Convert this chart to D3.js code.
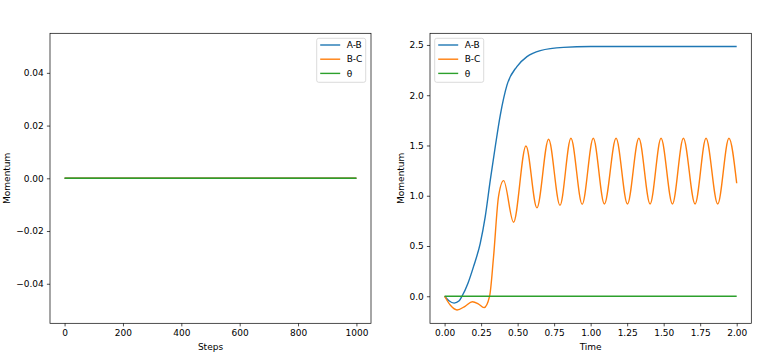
<!DOCTYPE html>
<html>
<head>
<meta charset="utf-8">
<script src="https://cdn.jsdelivr.net/npm/d3@7"></script>
<style>
  body { margin: 0; background: #fff; }
  text { font-family: "DejaVu Sans", sans-serif; }
</style>
</head>
<body>
<svg id="chart" width="768" height="363"></svg>
<script>
// left panel: every series is flat at zero over the steps
const steps = [0, 1000];
const stepAB = [0, 0];
const stepBC = [0, 0];
const stepTheta = [0, 0];

// right panel: values
const timeAB = [0, 0.03, 0.065, 0.1, 0.119, 0.16, 0.198, 0.244, 0.278, 0.313, 0.347, 0.381, 0.427, 0.495, 0.564, 0.655, 0.814, 1.0, 1.5, 2.0];
const momAB = [0, -0.045, -0.068, -0.045, 0, 0.13, 0.295, 0.527, 0.79, 1.157, 1.49, 1.8, 2.1, 2.285, 2.384, 2.444, 2.476, 2.484, 2.485, 2.485];

const timeBC = [0, 0.04, 0.085, 0.14, 0.19, 0.23, 0.27, 0.308, 0.335, 0.369, 0.404, 0.472, 0.557, 0.632, 0.712, 0.79, 0.865, 0.942, 1.018, 1.094, 1.174, 1.252, 1.33, 1.407, 1.482, 1.56, 1.635, 1.715, 1.79, 1.87, 1.947, 2.0];
const momBC = [0, -0.09, -0.136, -0.1, -0.055, -0.075, -0.113, 0, 0.39, 0.99, 1.15, 0.736, 1.495, 0.879, 1.562, 0.905, 1.572, 0.915, 1.572, 0.918, 1.572, 0.918, 1.572, 0.918, 1.572, 0.918, 1.572, 0.918, 1.572, 0.918, 1.572, 1.124];

const timeTheta = [0, 2.0];
const momTheta = [0, 0];

const seriesNames = ["A-B", "B-C", "θ"];
const colors = ["#1f77b4", "#ff7f0e", "#2ca02c"];

const leftTicksX = [0, 200, 400, 600, 800, 1000];
const leftTicksY = [-0.04, -0.02, 0, 0.02, 0.04];
const rightTicksX = [0, 0.25, 0.5, 0.75, 1, 1.25, 1.5, 1.75, 2];
const rightTicksY = [0, 0.5, 1, 1.5, 2, 2.5];

const svg = d3.select("#chart");
const FONT = 9;
const minus = s => s.replace("-", "\u2212");

function panel(box, xDomain, yDomain, xTicks, yTicks, xFmt, yFmt, series, xLabel, yLabelX, legendX) {
  const x = d3.scaleLinear().domain(xDomain).range([box.left, box.right]);
  const y = d3.scaleLinear().domain(yDomain).range([box.bottom, box.top]);

  const g = svg.append("g");

  const line = d3.line()
    .x(d => x(d[0]))
    .y(d => y(d[1]))
    .curve(d3.curveMonotoneX);

  series.forEach((s, i) => {
    g.append("path")
      .datum(d3.zip(s.xs, s.ys))
      .attr("fill", "none")
      .attr("stroke", colors[i])
      .attr("stroke-width", 1.4)
      .attr("d", line);
  });

  const xAxis = g.append("g")
    .attr("transform", `translate(0,${box.bottom})`)
    .call(d3.axisBottom(x).tickValues(xTicks).tickFormat(xFmt).tickSize(3.1).tickPadding(3.1));
  const yAxis = g.append("g")
    .attr("transform", `translate(${box.left},0)`)
    .call(d3.axisLeft(y).tickValues(yTicks).tickFormat(yFmt).tickSize(3.1).tickPadding(3.1));

  [xAxis, yAxis].forEach(a => {
    a.select(".domain").remove();
    a.selectAll(".tick line").attr("stroke", "#000").attr("stroke-width", 0.7);
    a.selectAll(".tick text").attr("fill", "#000").style("font-size", FONT + "px")
      .style("font-family", "DejaVu Sans");
  });

  g.append("rect")
    .attr("x", box.left).attr("y", box.top)
    .attr("width", box.right - box.left).attr("height", box.bottom - box.top)
    .attr("fill", "none").attr("stroke", "#000").attr("stroke-width", 0.7);

  g.append("text")
    .attr("x", (box.left + box.right) / 2)
    .attr("y", 350)
    .attr("text-anchor", "middle")
    .style("font-size", FONT + "px")
    .text(xLabel);

  g.append("text")
    .attr("transform", `translate(${yLabelX},${(box.top + box.bottom) / 2}) rotate(-90)`)
    .attr("text-anchor", "middle")
    .attr("dy", "0.35em")
    .style("font-size", FONT + "px")
    .text("Momentum");

  // legend
  const lg = g.append("g").attr("transform", `translate(${legendX},38.3)`);
  lg.append("rect")
    .attr("width", 49).attr("height", 44)
    .attr("rx", 2)
    .attr("fill", "#fff").attr("fill-opacity", 0.8)
    .attr("stroke", "#ccc").attr("stroke-width", 0.7);
  seriesNames.forEach((name, i) => {
    const yy = 6.7 + i * 14.2;
    lg.append("line")
      .attr("x1", 3.5).attr("x2", 23.5)
      .attr("y1", yy).attr("y2", yy)
      .attr("stroke", colors[i]).attr("stroke-width", 1.4);
    lg.append("text")
      .attr("x", 30).attr("y", yy)
      .attr("dy", "0.35em")
      .style("font-size", FONT + "px")
      .text(name);
  });
}

panel({ left: 50, right: 371, top: 33.3, bottom: 323.3 },
  [-50, 1050], [-0.055, 0.055], leftTicksX, leftTicksY,
  d => d3.format("d")(d), d => minus(d3.format(".2f")(d)),
  [{ xs: steps, ys: stepAB }, { xs: steps, ys: stepBC }, { xs: steps, ys: stepTheta }],
  "Steps", 6.5, 316.7);

panel({ left: 430, right: 751.3, top: 33.3, bottom: 323.3 },
  [-0.1, 2.1], [-0.269, 2.616], rightTicksX, rightTicksY,
  d => d3.format(".2f")(d), d => minus(d3.format(".1f")(d)),
  [{ xs: timeAB, ys: momAB }, { xs: timeBC, ys: momBC }, { xs: timeTheta, ys: momTheta }],
  "Time", 400.7, 434.7);
</script>
</body>
</html>
